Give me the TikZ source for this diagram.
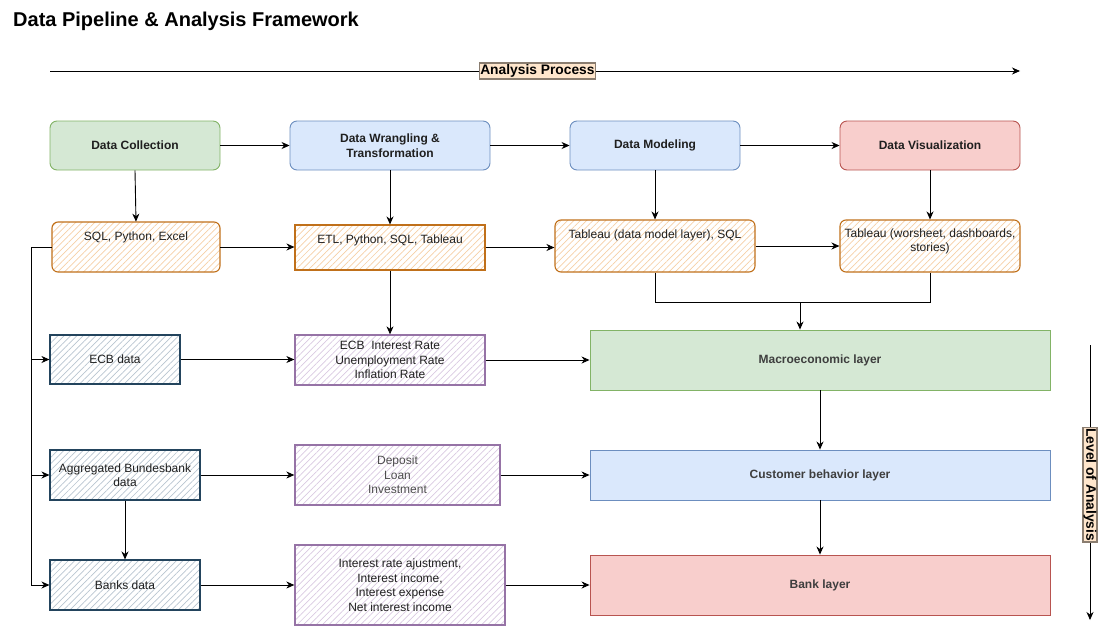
\documentclass[tikz,border=0pt]{standalone}
\usepackage{fontspec}
\setmainfont{Liberation Sans}
\usetikzlibrary{arrows.meta,patterns.meta,positioning,calc}
\definecolor{gfill}{HTML}{D5E8D4}\definecolor{gdraw}{HTML}{82B366}
\definecolor{bfill}{HTML}{DAE8FC}\definecolor{bdraw}{HTML}{6C8EBF}
\definecolor{rfill}{HTML}{F8CECC}\definecolor{rdraw}{HTML}{B85450}
\definecolor{odraw}{HTML}{C0701A}\definecolor{ohatch}{HTML}{F5CFA6}
\definecolor{ndraw}{HTML}{23445D}\definecolor{nhatch}{HTML}{B8C5D0}
\definecolor{pdraw}{HTML}{9673A6}\definecolor{phatch}{HTML}{D9C9E1}
\definecolor{lblfill}{HTML}{FFE6CC}\definecolor{lbldraw}{HTML}{8A7D70}
\definecolor{txtgray}{HTML}{4D4D4D}
\definecolor{txtdark}{HTML}{1F1F1F}
\tikzset{
  base/.style={font=\fontsize{12}{14.5}\selectfont, align=center, inner sep=0pt, text=txtdark},
  boldbox/.style={base, font=\fontsize{12}{15.5}\selectfont\bfseries, line width=0.9pt},
  greenbox/.style={boldbox, fill=gfill, draw=gdraw},
  bluebox/.style={boldbox, fill=bfill, draw=bdraw},
  redbox/.style={boldbox, fill=rfill, draw=rdraw},
  hatch/.style={base, line width=1.1pt, pattern={Lines[angle=45,distance=4.5pt,line width=0.7pt]}},
  orangebox/.style={hatch, draw=odraw, pattern color=ohatch},
  navybox/.style={hatch, draw=ndraw, pattern color=nhatch},
  purplebox/.style={hatch, line width=1.3pt, draw=pdraw, pattern color=phatch},
  lbl/.style={font=\fontsize{13.8}{16}\selectfont\bfseries, fill=lblfill, draw=lbldraw, line width=1.3pt, inner xsep=1pt, inner ysep=1.5pt},
  txt/.style={base},
  arr/.style={line width=0.9pt, -{Stealth[length=8pt,width=7pt,inset=2.5pt]}},
  ln/.style={line width=0.9pt},
}
\begin{document}
\begin{tikzpicture}[x=1pt,y=-1pt]
\useasboundingbox (0,0) rectangle (1099,629);
% title
\node[anchor=west, font=\fontsize{20}{24}\selectfont\bfseries, inner sep=0pt] (title) at (13,21) {Data Pipeline \& Analysis Framework};
% analysis process axis
\coordinate (apL) at (50,71);
\coordinate (apR) at (1020,71);
\draw[arr] (apL) -- (apR) node[lbl, pos=0.5025] (aplbl) {Analysis Process};
% level of analysis axis
\coordinate (loT) at (1090,345);
\coordinate (loB) at (1090,620);
\draw[arr] (loT) -- (loB) node[lbl, pos=0.508, rotate=-90, inner ysep=0.5pt] (lolbl) {Level of Analysis};

% top row
\node[greenbox, rounded corners=7pt, minimum width=170pt, minimum height=49pt] (dc) at (135,145.5) {Data Collection};
\node[bluebox, rounded corners=7pt, minimum width=200pt, minimum height=49pt] (dw) at (390,145.5) {Data Wrangling \&\\Transformation};
\node[bluebox, rounded corners=7pt, minimum width=170pt, minimum height=49pt] (dm) at (655,145.5) {Data Modeling};
\node[redbox, rounded corners=7pt, minimum width=180pt, minimum height=49pt] (dv) at (930,145.5) {Data Visualization};

% tools row
\node[orangebox, rounded corners=6pt, minimum width=168pt, minimum height=50pt] (sql) at (136,247) {};
\node[txt] (sqlt) at ([yshift=10pt]sql.center) {SQL, Python, Excel};
\node[orangebox, minimum width=190pt, minimum height=45pt] (etl) at (390,247.5) {};
\node[txt] (etlt) at ([yshift=7.5pt]etl.center) {ETL, Python, SQL, Tableau};
\node[orangebox, rounded corners=6pt, minimum width=200pt, minimum height=52pt] (tdm) at (655,246) {};
\node[txt] (tdmt) at ([yshift=11pt]tdm.center) {Tableau (data model layer), SQL};
\node[orangebox, rounded corners=6pt, minimum width=180pt, minimum height=52pt] (tviz) at (930,246) {};
\node[txt] (tvizt) at ([yshift=4.5pt]tviz.center) {Tableau (worsheet, dashboards,\\stories)};

% data rows
\node[navybox, minimum width=130pt, minimum height=49pt] (ecb) at (115,359.5) {ECB data};
\node[purplebox, minimum width=190pt, minimum height=50pt] (rates) at (390,360) {ECB\ \ Interest Rate\\Unemployment Rate\\Inflation Rate};
\node[greenbox, minimum width=460pt, minimum height=60pt, text=txtgray!80!black] (macro) at (820,360) {Macroeconomic layer};

\node[navybox, minimum width=150pt, minimum height=50pt] (agg) at (125,475) {Aggregated Bundesbank\\data};
\node[purplebox, minimum width=205pt, minimum height=60pt, text=txtgray] (dep) at (397.5,475) {Deposit\\Loan\\Investment};
\node[bluebox, minimum width=460pt, minimum height=50pt, text=txtgray!80!black] (cust) at (820,475) {Customer behavior layer};

\node[navybox, minimum width=150pt, minimum height=50pt] (banks) at (125,585) {Banks data};
\node[purplebox, minimum width=210pt, minimum height=80pt] (intr) at (400,585) {Interest rate ajustment,\\Interest income,\\Interest expense\\Net interest income};
\node[redbox, minimum width=460pt, minimum height=60pt, text=txtgray!80!black] (bank) at (820,585) {Bank layer};

% top row connectors
\draw[arr] (dc.east) -- (dw.west);
\draw[arr] (dw.east) -- (dm.west);
\draw[arr] (dm.east) -- (dv.west);
\draw[arr] (dc.south) -- (sql.north);
\draw[arr] (dw.south) -- (etl.north);
\draw[arr] (dm.south) -- (tdm.north);
\draw[arr] (dv.south) -- (tviz.north);
% tools connectors
\draw[arr] (sql.east) -- (sql.east -| etl.west);
\draw[arr] (etl.east) -- (etl.east -| tdm.west);
\draw[arr] (tdm.east) -- (tdm.east -| tviz.west);
\draw[arr] (etl.south) -- (rates.north);
\coordinate (merge) at (800,302);
\draw[ln] (tdm.south) |- (merge);
\draw[ln] (tviz.south) |- (merge);
\draw[arr] (merge) -- (merge |- macro.north);
% bus
\coordinate (bus) at ([xshift=-20pt]sql.west);
\draw[ln] (sql.west) -- (bus);
\draw[arr] (bus) |- (ecb.west);
\draw[arr] (bus) |- (agg.west);
\draw[arr] (bus) |- (banks.west);
% data rows connectors
\draw[arr] (ecb.east) -- (ecb.east -| rates.west);
\draw[arr] (rates.east) -- (rates.east -| macro.west);
\draw[arr] (agg.east) -- (agg.east -| dep.west);
\draw[arr] (dep.east) -- (dep.east -| cust.west);
\draw[arr] (agg.south) -- (banks.north);
\draw[arr] (banks.east) -- (banks.east -| intr.west);
\draw[arr] (intr.east) -- (intr.east -| bank.west);
\draw[arr] (macro.south) -- (cust.north);
\draw[arr] (cust.south) -- (bank.north);
\end{tikzpicture}
\end{document}
